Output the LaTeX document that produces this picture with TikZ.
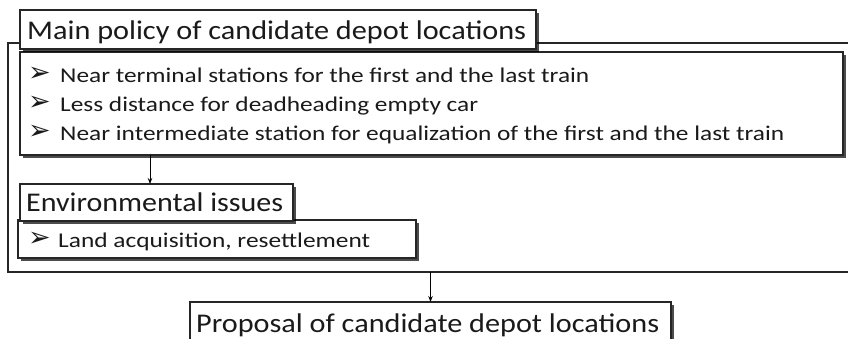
\documentclass[tikz,border=0pt]{standalone}
\usepackage{fontspec}
\setmainfont{Carlito}
\newfontfamily\dvs{DejaVu Sans}
\usetikzlibrary{shadows,arrows.meta}
\definecolor{txt}{HTML}{1A1A1A}
\newcommand\fitw[2]{\resizebox{#1pt}{\height}{#2}}
\begin{document}
\begin{tikzpicture}[x=1pt,y=-1pt,
  frame/.style={draw=black!85, line width=1.3pt},
  box/.style={frame, fill=white, anchor=north west, inner sep=0pt, outer sep=0pt,
    drop shadow={shadow xshift=2.5pt, shadow yshift=-2.5pt, opacity=0.7, fill=black}},
  big/.style={anchor=base west, inner sep=0pt, text=txt, font=\fontsize{27}{27}\selectfont},
  small/.style={anchor=base west, inner sep=0pt, text=txt, font=\fontsize{21}{21}\selectfont},
  bul/.style={anchor=base west, inner sep=0pt, text=txt, font=\dvs\fontsize{27}{27}\selectfont},
  arr/.style={-{Stealth[length=6pt,width=4.5pt]}, line width=0.9pt, draw=black}]
\useasboundingbox (0,0) rectangle (848,338);
% outer frame
\node[frame, anchor=north west, minimum width=880pt, minimum height=229pt, inner sep=0pt, outer sep=0pt] (outer) at (8,43) {};
% boxes
\node[box, minimum width=823pt, minimum height=103pt] (blist) at (20,52) {};
\node[box, minimum width=516pt, minimum height=39pt] (title) at (20,10) {};
\node[box, minimum width=398pt, minimum height=38pt] (land) at (18,220) {};
\node[box, minimum width=273pt, minimum height=37pt] (env) at (20,184) {};
\node[box, minimum width=481pt, minimum height=45pt] (prop) at (190,302) {};
% texts
\node[big] (ttitle) at (27,39.5) {\fitw{499}{Main policy of candidate depot locations}};
\node[bul] (m1) at (28,81) {➢};
\node[small] (l1) at (60,82) {\fitw{529}{Near terminal stations for the first and the last train}};
\node[bul] (m2) at (28,110) {➢};
\node[small] (l2) at (60,111) {\fitw{418}{Less distance for deadheading empty car}};
\node[bul] (m3) at (28,139) {➢};
\node[small] (l3) at (60,140) {\fitw{724}{Near intermediate station for equalization of the first and the last train}};
\node[big] (tenv) at (26,211.5) {\fitw{257}{Environmental issues}};
\node[bul] (m4) at (28,246) {➢};
\node[small] (l4) at (58,247) {\fitw{312}{Land acquisition, resettlement}};
\node[big] (tprop) at (196,332) {\fitw{463}{Proposal of candidate depot locations}};
% arrows
\draw[arr] ([xshift=130pt]blist.south west) -- ([xshift=130pt]env.north west);
\draw[arr] (outer.south -| prop.north) -- (prop.north);
\end{tikzpicture}
\end{document}
